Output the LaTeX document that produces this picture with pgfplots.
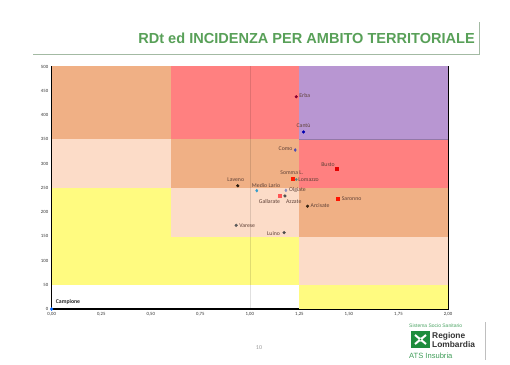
\documentclass[border=0pt]{standalone}
\usepackage{pgfplots}
\pgfplotsset{compat=1.18}
\usepackage{fontspec}
\setmainfont{Carlito}
\newfontfamily\arialf{Liberation Sans}
\definecolor{cOr}{RGB}{240,176,133}
\definecolor{cRe}{RGB}{255,128,128}
\definecolor{cPu}{RGB}{184,150,210}
\definecolor{cPe}{RGB}{252,220,200}
\definecolor{cYe}{RGB}{255,251,128}
\definecolor{tgreen}{RGB}{88,160,88}
\definecolor{lab}{RGB}{95,65,55}
\definecolor{lgreen}{RGB}{30,140,60}
\begin{document}
\begin{tikzpicture}[x=1bp,y=1bp]
\path[use as bounding box] (0,0) rectangle (510,364);
% header
\node[anchor=base east,inner sep=0,text=tgreen,font=\arialf\bfseries\fontsize{14.6}{16}\selectfont] at (475,321) {RDt ed INCIDENZA PER AMBITO TERRITORIALE};
\draw[color=black!25!green!20!gray!60,line width=0.8bp] (33,310) -- (479,310) -- (479,342);
\begin{axis}[
  at={(51.7bp,55bp)}, anchor=south west,
  scale only axis, width=396.3bp, height=242.5bp,
  xmin=0,xmax=2,ymin=0,ymax=500,
  clip=false,
  axis line style={black,line width=1.3bp},
  xtick={0,0.25,...,2}, ytick={0,50,...,500},
  major tick length=0pt,
  tick label style={font=\fontsize{4.8}{5}\selectfont,text=black!80},
  xticklabel={\pgfmathprintnumber[fixed,fixed zerofill,precision=2,use comma,assume math mode=true]{\tick}},
  yticklabel={\pgfmathprintnumber[fixed,precision=0,assume math mode=true]{\tick}},
]
% coloured zones
\addplot[fill=cOr,draw=none] coordinates {(0,350) (0.6,350) (0.6,500) (0,500)} -- cycle;
\addplot[fill=cRe,draw=none] coordinates {(0.6,350) (1.25,350) (1.25,500) (0.6,500)} -- cycle;
\addplot[fill=cPu,draw=none] coordinates {(1.25,350) (2,350) (2,500) (1.25,500)} -- cycle;
\addplot[fill=cPe,draw=none] coordinates {(0,250) (0.6,250) (0.6,350) (0,350)} -- cycle;
\addplot[fill=cOr,draw=none] coordinates {(0.6,250) (1.25,250) (1.25,350) (0.6,350)} -- cycle;
\addplot[fill=cRe,draw=none] coordinates {(1.25,250) (2,250) (2,350) (1.25,350)} -- cycle;
\addplot[fill=cYe,draw=none] coordinates {(0,148) (0.6,148) (0.6,250) (0,250)} -- cycle;
\addplot[fill=cPe,draw=none] coordinates {(0.6,148) (1.25,148) (1.25,250) (0.6,250)} -- cycle;
\addplot[fill=cOr,draw=none] coordinates {(1.25,148) (2,148) (2,250) (1.25,250)} -- cycle;
\addplot[fill=cYe,draw=none] coordinates {(0,50) (1.25,50) (1.25,148) (0,148)} -- cycle;
\addplot[fill=cPe,draw=none] coordinates {(1.25,50) (2,50) (2,148) (1.25,148)} -- cycle;
\addplot[fill=cYe,draw=none] coordinates {(1.25,0) (2,0) (2,50) (1.25,50)} -- cycle;
\addplot[draw=black,opacity=0.12,line width=0.5bp] coordinates {(1,0) (1,500)};
\addplot[draw=cPu!80!black,line width=0.4bp] coordinates {(1.25,350) (2,350)};
% points
\tikzset{lbl/.style={font=\fontsize{5.8}{6}\selectfont,text=lab,inner sep=1pt}}
\addplot[only marks,mark=*,mark size=1.4bp,color=red!50!violet!70!black] coordinates {(1.234,437.7)} node[lbl,anchor=west,xshift=2bp,yshift=1.5bp] {Erba};
\addplot[only marks,mark=*,mark size=1.4bp,color=blue!70!black] coordinates {(1.271,365)} node[lbl,anchor=south,yshift=3bp] {Cantù};
\addplot[only marks,mark=diamond*,mark size=1.5bp,color=gray!60!blue] coordinates {(1.229,327.8)} node[lbl,anchor=east,xshift=-1.5bp,yshift=1bp] {Como};
\addplot[only marks,mark=square*,mark size=1.6bp,color=red!90!black] coordinates {(1.439,289)} node[lbl,anchor=south east,xshift=-1bp,yshift=1.5bp] {Busto};
\addplot[only marks,mark=square*,mark size=1.5bp,color=red!80!orange] coordinates {(1.217,269.5)} node[lbl,anchor=south,yshift=3bp,xshift=-1bp] {Somma L.};
\addplot[only marks,mark=*,mark size=1.1bp,color=gray!70!teal] coordinates {(1.234,267)} node[lbl,anchor=west,xshift=1bp] {Lomazzo};
\addplot[only marks,mark=*,mark size=1.4bp,color=black!80!brown] coordinates {(0.939,254)} node[lbl,anchor=south,yshift=3bp,xshift=-2bp] {Laveno};
\addplot[only marks,mark=diamond*,mark size=1.5bp,color=blue!30!cyan!60!gray] coordinates {(1.035,244)} node[lbl,anchor=south west,xshift=-6bp,yshift=2bp] {Medio Lario};
\addplot[only marks,mark=diamond*,mark size=1.5bp,color=blue!25!gray!70] coordinates {(1.182,244.7)} node[lbl,anchor=west,xshift=2bp] {Olgiate};
\addplot[only marks,mark=square*,mark size=1.5bp,color=red!55!pink] coordinates {(1.151,233.6)} node[lbl,anchor=north east,xshift=1.5bp,yshift=-2.5bp] {Gallarate};
\addplot[only marks,mark=*,mark size=1.4bp,color=black!70] coordinates {(1.177,233)} node[lbl,anchor=north west,xshift=0bp,yshift=-2.5bp] {Azzate};
\addplot[only marks,mark=*,mark size=1.4bp,color=black!70!brown] coordinates {(1.291,212)} node[lbl,anchor=west,xshift=2bp,yshift=0.8bp] {Arcisate};
\addplot[only marks,mark=square*,mark size=1.6bp,color=red!85!orange] coordinates {(1.443,226.8)} node[lbl,anchor=west,xshift=3bp] {Saronno};
\addplot[only marks,mark=*,mark size=1.4bp,color=black!65] coordinates {(0.931,172.5)} node[lbl,anchor=west,xshift=2bp] {Varese};
\addplot[only marks,mark=*,mark size=1.4bp,color=black!70] coordinates {(1.173,157.4)} node[lbl,anchor=east,xshift=-3bp,yshift=-1bp] {Luino};
\addplot[only marks,mark=*,mark size=1.5bp,color=blue!60!cyan] coordinates {(0,0)} node[lbl,text=black!85,font=\bfseries\fontsize{5.8}{6}\selectfont,anchor=south west,xshift=3bp,yshift=3bp] {Campione};
\end{axis}
% footer
\node[text=black!40,font=\fontsize{6}{7}\selectfont] at (259,16) {10};
\node[anchor=west,inner sep=0,text=lgreen!80!white,font=\arialf\fontsize{5}{6}\selectfont] at (409,38.5) {Sistema Socio Sanitario};
\fill[lgreen] (411,16) rectangle (430,33);
\draw[white,line width=2bp] (415,29) -- (426,20) (426,29) -- (415,20);
\fill[white] (420.5,24.5) circle (2bp);
\fill[lgreen] (420.5,24.5) circle (0.9bp);
\node[anchor=west,inner sep=0,text=black!80,font=\arialf\bfseries\fontsize{8.4}{9}\selectfont] at (432,27.5) {Regione};
\node[anchor=west,inner sep=0,text=black!80,font=\arialf\bfseries\fontsize{8.4}{9}\selectfont] at (432,19.5) {Lombardia};
\node[anchor=west,inner sep=0,text=lgreen!85!white,font=\arialf\fontsize{7.6}{9}\selectfont] at (409,8) {ATS Insubria};
\draw[black!25,line width=0.6bp] (485,42) -- (485,4);
\end{tikzpicture}
\end{document}
